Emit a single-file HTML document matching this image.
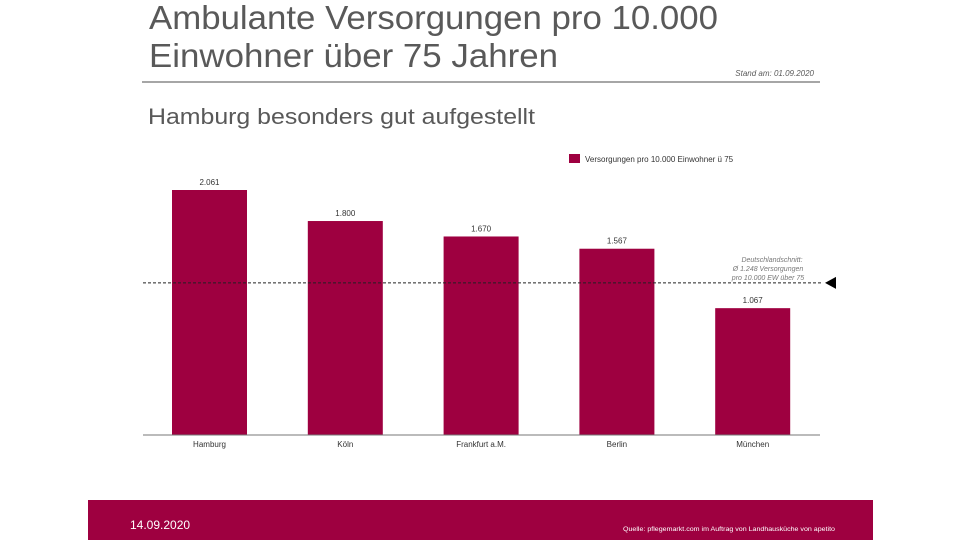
<!DOCTYPE html>
<html><head><meta charset="utf-8"><style>
body{margin:0;background:#fff;font-family:"Liberation Sans",sans-serif;}
#wrap{position:relative;width:960px;height:540px;overflow:hidden;}
</style></head><body>
<div id="wrap">
<svg width="960" height="540" id="svg" style="position:absolute;left:0;top:0">
<text x="149" y="29" font-size="33" fill="#595959" textLength="569" lengthAdjust="spacingAndGlyphs">Ambulante Versorgungen pro 10.000</text>
<text x="149" y="67" font-size="33" fill="#595959" textLength="409" lengthAdjust="spacingAndGlyphs">Einwohner über 75 Jahren</text>
<line x1="142" y1="82" x2="820" y2="82" stroke="#888" stroke-width="1.5"/>
<text x="814" y="76" font-size="8" font-style="italic" fill="#595959" text-anchor="end">Stand am: 01.09.2020</text>
<text x="148" y="124" font-size="22" fill="#595959" textLength="387" lengthAdjust="spacingAndGlyphs">Hamburg besonders  gut aufgestellt</text>
<rect x="569" y="154" width="11" height="9" fill="#9e0040"/>
<text x="585" y="162" font-size="8" fill="#333">Versorgungen pro 10.000 Einwohner ü 75</text>
<g id="bars"></g>
<line x1="143" y1="435" x2="820" y2="435" stroke="#777" stroke-width="1"/>
<text x="772" y="262" font-size="7" font-style="italic" fill="#777" text-anchor="middle">Deutschlandschnitt:</text>
<text x="768" y="271" font-size="7" font-style="italic" fill="#777" text-anchor="middle">Ø 1.248 Versorgungen</text>
<text x="768" y="280" font-size="7" font-style="italic" fill="#777" text-anchor="middle">pro 10.000 EW über 75</text>
<rect x="88" y="500" width="785" height="40" fill="#9e0040"/>
<text x="130" y="529" font-size="12" fill="#fff">14.09.2020</text>
<text x="623" y="531" font-size="6.5" fill="#fff" textLength="212" lengthAdjust="spacingAndGlyphs">Quelle: pflegemarkt.com  im Auftrag von Landhausküche  von apetito</text>
</svg>
</div>
<script>
const categories=["Hamburg","Köln","Frankfurt a.M.","Berlin","München"];
const values=[2061,1800,1670,1567,1067];
const valueLabels=["2.061","1.800","1.670","1.567","1.067"];
const average=[1280];
const base=435, scale=245/2061;
const y=v=>base-v*scale;
const x=i=>172+i*135.8;
const ns="http://www.w3.org/2000/svg";
const g=document.getElementById('bars');
categories.forEach((c,i)=>{
  const r=document.createElementNS(ns,'rect');
  r.setAttribute('x',x(i));r.setAttribute('y',y(values[i]));
  r.setAttribute('width',75);r.setAttribute('height',base-y(values[i]));
  r.setAttribute('fill','#9e0040');
  
  
  g.appendChild(r);
  const t=document.createElementNS(ns,'text');
  t.setAttribute('x',x(i)+37.5);t.setAttribute('y',y(values[i])-5);
  t.setAttribute('font-size','8');t.setAttribute('text-anchor','middle');t.setAttribute('fill','#333');
  t.textContent=valueLabels[i];
  
  
  g.appendChild(t);
  const l=document.createElementNS(ns,'text');
  l.setAttribute('x',x(i)+37.5);l.setAttribute('y',447);
  l.setAttribute('font-size','8');l.setAttribute('text-anchor','middle');l.setAttribute('fill','#333');
  l.textContent=c;
  
  
  g.appendChild(l);
});
const ay=y(average[0]);
const dl=document.createElementNS(ns,'line');
dl.setAttribute('x1',143);dl.setAttribute('x2',822);dl.setAttribute('y1',ay);dl.setAttribute('y2',ay);
dl.setAttribute('stroke','#222');dl.setAttribute('stroke-dasharray','3,2');


g.appendChild(dl);
const tri=document.createElementNS(ns,'polygon');
tri.setAttribute('points',`825,${ay} 836,${ay-6} 836,${ay+6}`);
tri.setAttribute('fill','#000');


g.appendChild(tri);
</script>
</body></html>
